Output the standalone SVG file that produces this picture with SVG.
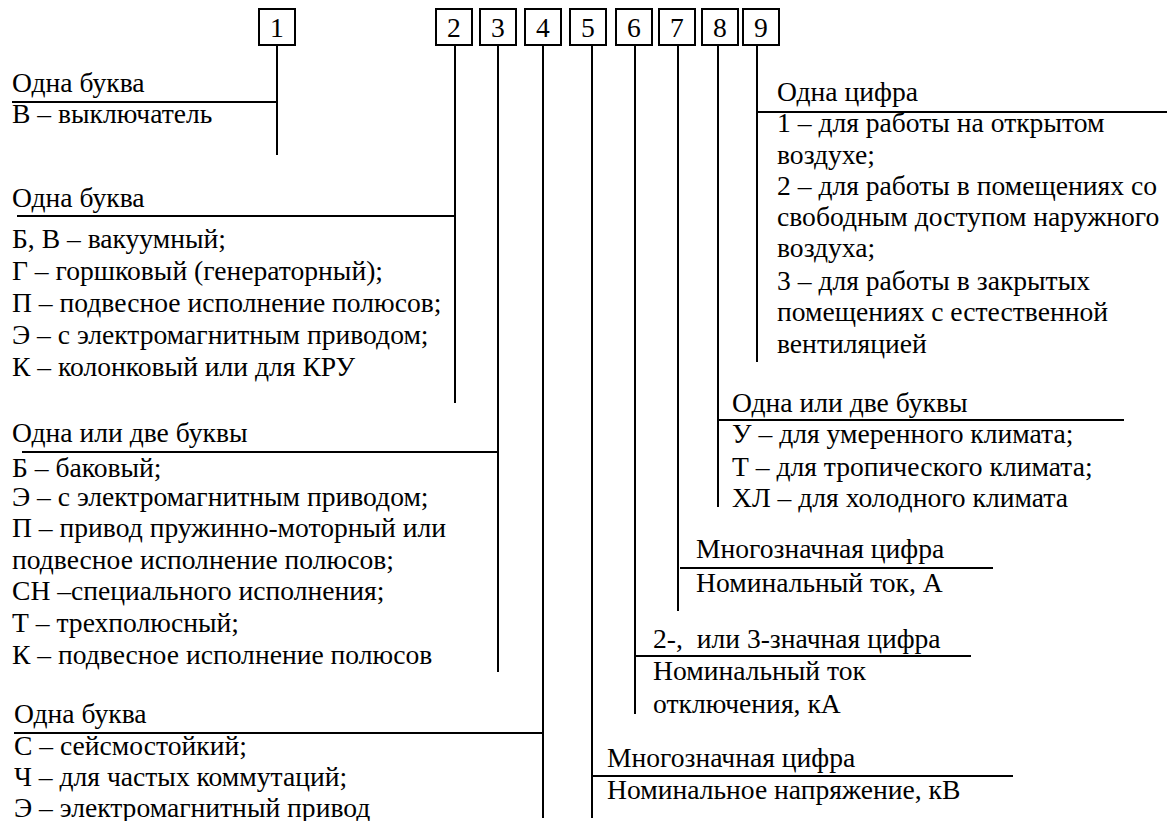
<svg xmlns="http://www.w3.org/2000/svg" width="1168" height="821" viewBox="0 0 1168 821">
<style>
.t{font-family:"Liberation Serif",serif;font-size:27.6px;fill:#000}
.num{text-anchor:middle}
.box{fill:#fff;stroke:#000;stroke-width:2}
.ln{stroke:#000;stroke-width:2;fill:none}
</style>
<rect width="1168" height="821" fill="#fff"/>
<g id="connectors">
<path class="ln" d="M277 45V155M12 102H277"/>
<path class="ln" d="M455 45V403M17 216H455"/>
<path class="ln" d="M498 45V672M22 452H498"/>
<path class="ln" d="M543 45V818M14 733H543"/>
<path class="ln" d="M592 45V818M592 776H1013"/>
<path class="ln" d="M635 45V714M635 656H971"/>
<path class="ln" d="M678 45V611M680 568H993"/>
<path class="ln" d="M718 45V507M717 420H1124"/>
<path class="ln" d="M757 45V362M758 112H1167"/>
</g>
<g id="box1"><rect class="box" x="259" y="9" width="36" height="36"/><text class="t num" x="277" y="37">1</text></g>
<g id="box2"><rect class="box" x="436" y="9" width="36" height="36"/><text class="t num" x="454" y="37">2</text></g>
<g id="box3"><rect class="box" x="480" y="9" width="36" height="36"/><text class="t num" x="498" y="37">3</text></g>
<g id="box4"><rect class="box" x="525" y="9" width="36" height="36"/><text class="t num" x="543" y="37">4</text></g>
<g id="box5"><rect class="box" x="570" y="9" width="36" height="36"/><text class="t num" x="588" y="37">5</text></g>
<g id="box6"><rect class="box" x="616" y="9" width="36" height="36"/><text class="t num" x="634" y="37">6</text></g>
<g id="box7"><rect class="box" x="659" y="9" width="36" height="36"/><text class="t num" x="677" y="37">7</text></g>
<g id="box8"><rect class="box" x="702" y="9" width="36" height="36"/><text class="t num" x="720" y="37">8</text></g>
<g id="box9"><rect class="box" x="743" y="9" width="36" height="36"/><text class="t num" x="761" y="37">9</text></g>
<g id="desc1">
<text class="t" x="12" y="92">Одна буква</text>
<text class="t" x="12" y="123">В – выключатель</text>
</g>
<g id="desc2">
<text class="t" x="12" y="207">Одна буква</text>
<text class="t" x="12" y="248">Б, В – вакуумный;</text>
<text class="t" x="12" y="280">Г – горшковый (генераторный);</text>
<text class="t" x="12" y="312">П – подвесное исполнение полюсов;</text>
<text class="t" x="12" y="344">Э – с электромагнитным приводом;</text>
<text class="t" x="12" y="376">К – колонковый или для КРУ</text>
</g>
<g id="desc3">
<text class="t" x="12" y="442">Одна или две буквы</text>
<text class="t" x="12" y="477">Б – баковый;</text>
<text class="t" x="12" y="506">Э – с электромагнитным приводом;</text>
<text class="t" x="12" y="537">П – привод пружинно-моторный или</text>
<text class="t" x="12" y="569">подвесное исполнение полюсов;</text>
<text class="t" x="12" y="600">СН –специального исполнения;</text>
<text class="t" x="12" y="632">Т – трехполюсный;</text>
<text class="t" x="12" y="664">К – подвесное исполнение полюсов</text>
</g>
<g id="desc4">
<text class="t" x="14" y="723">Одна буква</text>
<text class="t" x="14" y="755">С – сейсмостойкий;</text>
<text class="t" x="14" y="786">Ч – для частых коммутаций;</text>
<text class="t" x="14" y="817">Э – электромагнитный привод</text>
</g>
<g id="desc5">
<text class="t" x="607" y="767">Многозначная цифра</text>
<text class="t" x="607" y="799">Номинальное напряжение, кВ</text>
</g>
<g id="desc6">
<text class="t" x="653" y="648" xml:space="preserve">2-,  или 3-значная цифра</text>
<text class="t" x="653" y="680">Номинальный ток</text>
<text class="t" x="653" y="713">отключения, кА</text>
</g>
<g id="desc7">
<text class="t" x="696" y="558">Многозначная цифра</text>
<text class="t" x="696" y="592">Номинальный ток, А</text>
</g>
<g id="desc8">
<text class="t" x="732" y="412">Одна или две буквы</text>
<text class="t" x="732" y="443">У – для умеренного климата;</text>
<text class="t" x="732" y="476">Т – для тропического климата;</text>
<text class="t" x="732" y="507">ХЛ – для холодного климата</text>
</g>
<g id="desc9">
<text class="t" x="777" y="101">Одна цифра</text>
<text class="t" x="777" y="132">1 – для работы на открытом</text>
<text class="t" x="777" y="164">воздухе;</text>
<text class="t" x="777" y="195">2 – для работы в помещениях со</text>
<text class="t" x="777" y="226">свободным доступом наружного</text>
<text class="t" x="777" y="257">воздуха;</text>
<text class="t" x="777" y="290">3 – для работы в закрытых</text>
<text class="t" x="777" y="321">помещениях с естественной</text>
<text class="t" x="777" y="353">вентиляцией</text>
</g>
</svg>
